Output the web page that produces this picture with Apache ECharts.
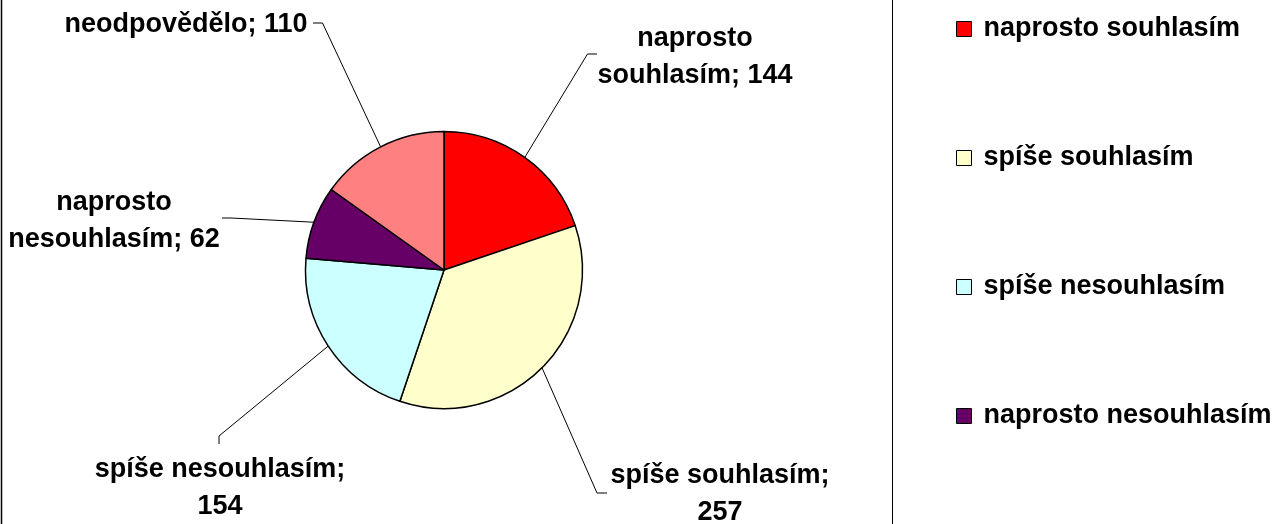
<!DOCTYPE html>
<html><head><meta charset="utf-8">
<script src="https://cdn.jsdelivr.net/npm/echarts@6/dist/echarts.min.js"></script>
<style>html,body{margin:0;padding:0;background:#fff}#c{width:1287px;height:524px}</style>
</head><body><div id="c"></div>
<script>
// ---- data ----
const categories = ['naprosto souhlasím', 'spíše souhlasím', 'spíše nesouhlasím', 'naprosto nesouhlasím', 'neodpovědělo'];
const values = [144, 257, 154, 62, 110];
const legendItems = ['naprosto souhlasím', 'spíše souhlasím', 'spíše nesouhlasím', 'naprosto nesouhlasím'];
// how each label text wraps: 'word' = after first word, 'sep' = after the semicolon, 'none'
const labelWrap = ['word', 'sep', 'sep', 'word', 'none'];

// ---- styles / layout ----
const colors = ['#FF0000', '#FFFFCC', '#CCFFFF', '#660066', '#FF8080'];
const FONT = "'Liberation Sans', Arial, sans-serif";
const PIE_CENTER = [444, 270];
const PIE_R = 138.5;
// label block centres and leader-line elbows/ends (pixels)
const labelLayoutCfg = [
  { x: 695, y: 57, elbow: [587.5, 54], end: [597, 54] },
  { x: 720, y: 494, elbow: [597, 493], end: [607, 493] },
  { x: 220, y: 488.5, elbow: [219, 436], end: [219, 444] },
  { x: 114, y: 221, elbow: [231, 218], end: [222, 218] },
  { x: 186, y: 24.5, elbow: [322.5, 23], end: [313, 23] }
];

const chart = echarts.init(document.getElementById('c'), null, { renderer: 'canvas' });

const total = values.reduce((a, b) => a + b, 0);
function edgePoint(i) {
  let before = 0;
  for (let k = 0; k < i; k++) before += values[k];
  const ang = (before + values[i] / 2) / total * 2 * Math.PI;
  return [PIE_CENTER[0] + PIE_R * Math.sin(ang), PIE_CENTER[1] - PIE_R * Math.cos(ang)];
}

chart.setOption({
  backgroundColor: '#ffffff',
  animation: false,
  color: colors,
  legend: {
    data: legendItems,
    orient: 'vertical',
    left: 956,
    top: 14,
    padding: 0,
    itemGap: 99,
    itemWidth: 15,
    itemHeight: 15,
    icon: 'rect',
    itemStyle: { borderColor: '#000', borderWidth: 1 },
    textStyle: { fontFamily: FONT, fontSize: 27, fontWeight: 'bold', color: '#000', lineHeight: 30, padding: [0, 0, 0, 7] },
    selectedMode: false
  },
  graphic: [
    { type: 'line', silent: true, shape: { x1: 1.5, y1: -5, x2: 1.5, y2: 530 }, style: { stroke: '#000', lineWidth: 1.5 } },
    { type: 'line', silent: true, shape: { x1: 892.5, y1: -5, x2: 892.5, y2: 530 }, style: { stroke: '#000', lineWidth: 1 } }
  ],
  series: [{
    type: 'pie',
    center: PIE_CENTER,
    radius: PIE_R,
    startAngle: 90,
    clockwise: true,
    avoidLabelOverlap: false,
    data: categories.map((c, i) => ({ name: c, value: values[i] })),
    itemStyle: { borderColor: '#000', borderWidth: 1.5 },
    emphasis: { disabled: true },
    label: {
      show: true,
      position: 'outside',
      width: 300,
      overflow: 'none',
      fontFamily: FONT,
      fontSize: 27,
      fontWeight: 'bold',
      color: '#000',
      lineHeight: 37,
      align: 'center',
      formatter: function (p) {
        const w = labelWrap[p.dataIndex];
        const n = p.name, v = p.value;
        if (w === 'word') {
          const i = n.indexOf(' ');
          return n.slice(0, i) + '\n' + n.slice(i + 1) + '; ' + v;
        }
        if (w === 'sep') return n + ';\n' + v;
        return n + '; ' + v;
      }
    },
    labelLine: { show: true, lineStyle: { color: '#000', width: 1 } },
    labelLayout: function (params) {
      const cfg = labelLayoutCfg[params.dataIndex];
      const pts = params.labelLinePoints;
      const start = (pts && pts[0]) ? pts[0] : edgePoint(params.dataIndex);
      return {
        x: cfg.x, y: cfg.y, align: 'center', verticalAlign: 'middle',
        labelLinePoints: [start, cfg.elbow, cfg.end]
      };
    }
  }]
});
</script>
</body></html>
